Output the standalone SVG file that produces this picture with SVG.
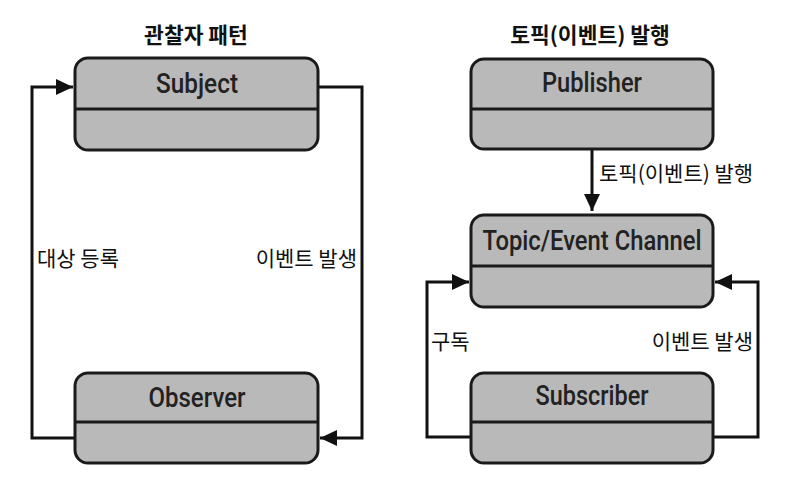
<svg xmlns="http://www.w3.org/2000/svg" width="788" height="492" viewBox="0 0 788 492">
<style>
.box{fill:#b9b9b9;stroke:#1a1a1a;stroke-width:3}
.div{stroke:#1a1a1a;stroke-width:3}
.name{font-family:Roboto,"Liberation Sans",sans-serif;font-weight:500;font-size:28px;fill:#222;text-anchor:middle}
.title{font-family:"Noto Sans CJK KR","Noto Sans",sans-serif;font-weight:700;font-size:21.5px;fill:#111;text-anchor:middle}
.lbl{font-family:"Noto Sans CJK KR","Noto Sans",sans-serif;font-size:21px;fill:#111}
.conn{fill:none;stroke:#111;stroke-width:3}
</style>
<defs>
<marker id="arr" markerUnits="userSpaceOnUse" markerWidth="18" markerHeight="18" refX="17" refY="9" orient="auto">
<path d="M0,1 L17,9 L0,17 Z" fill="#111"/>
</marker>
</defs>
<rect width="788" height="492" fill="#fff"/>
<text class="title" x="196" y="43">관찰자 패턴</text>
<text class="title" x="590" y="43">토픽(이벤트) 발행</text>
<g id="connectors">
<path class="conn" d="M75,438 H32 V87 H73" marker-end="url(#arr)"/>
<path class="conn" d="M318,87 H362 V438 H320" marker-end="url(#arr)"/>
<path class="conn" d="M592,149 V211" marker-end="url(#arr)"/>
<path class="conn" d="M471,437 H427 V282 H469" marker-end="url(#arr)"/>
<path class="conn" d="M713,437 H758 V282 H715" marker-end="url(#arr)"/>
<text class="lbl" x="37" y="266">대상 등록</text>
<text class="lbl" x="357" y="266" text-anchor="end">이벤트 발생</text>
<text class="lbl" x="599" y="181">토픽(이벤트) 발행</text>
<text class="lbl" x="431" y="349">구독</text>
<text class="lbl" x="753" y="349" text-anchor="end">이벤트 발생</text>
</g>
<g id="subject">
<rect class="box" x="75" y="58" width="243" height="92" rx="13"/>
<line class="div" x1="75" y1="109" x2="318" y2="109"/>
<text class="name" x="197" y="93" textLength="82" lengthAdjust="spacingAndGlyphs">Subject</text>
</g>
<g id="observer">
<rect class="box" x="75" y="373" width="243" height="90" rx="13"/>
<line class="div" x1="75" y1="422" x2="318" y2="422"/>
<text class="name" x="197" y="407" textLength="97" lengthAdjust="spacingAndGlyphs">Observer</text>
</g>
<g id="publisher">
<rect class="box" x="471" y="59" width="242" height="90" rx="13"/>
<line class="div" x1="471" y1="109" x2="713" y2="109"/>
<text class="name" x="592" y="92" textLength="100" lengthAdjust="spacingAndGlyphs">Publisher</text>
</g>
<g id="channel">
<rect class="box" x="471" y="215" width="242" height="92" rx="13"/>
<line class="div" x1="471" y1="266" x2="713" y2="266"/>
<text class="name" x="592" y="250" textLength="219" lengthAdjust="spacingAndGlyphs">Topic/Event Channel</text>
</g>
<g id="subscriber">
<rect class="box" x="471" y="373" width="242" height="90" rx="13"/>
<line class="div" x1="471" y1="422" x2="713" y2="422"/>
<text class="name" x="592" y="405" textLength="113" lengthAdjust="spacingAndGlyphs">Subscriber</text>
</g>
</svg>
